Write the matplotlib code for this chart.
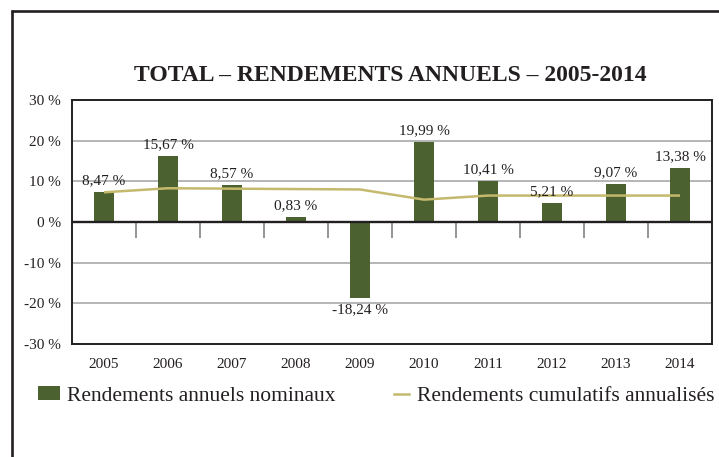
import matplotlib
matplotlib.use("Agg")
import matplotlib.pyplot as plt
from matplotlib.lines import Line2D
from matplotlib.patches import Patch

years = ["2005", "2006", "2007", "2008", "2009", "2010", "2011", "2012", "2013", "2014"]
annual = [7.3, 16.2, 9.05, 1.2, -18.6, 19.6, 10.05, 4.6, 9.3, 13.2]
annual_labels = ["8,47 %", "15,67 %", "8,57 %", "0,83 %", "-18,24 %", "19,99 %",
                 "10,41 %", "5,21 %", "9,07 %", "13,38 %"]
cumulative = [7.3, 8.3, 8.2, 8.1, 8.0, 5.5, 6.5, 6.5, 6.5, 6.5]
yticks = [-30, -20, -10, 0, 10, 20, 30]
ytick_labels = ["-30 %", "-20 %", "-10 %", "0 %", "10 %", "20 %", "30 %"]
title = "TOTAL – RENDEMENTS ANNUELS – 2005-2014"
legend_bar = "Rendements annuels nominaux"
legend_line = "Rendements cumulatifs annualisés"

BAR = "#4b6130"
LINE = "#c4b96c"
TXT = "#231f20"
GRID = "#a7a9ac"
TICK = "#939598"

plt.rcParams["font.family"] = ["Liberation Serif", "DejaVu Serif"]

W, H = 719, 457
fig = plt.figure(figsize=(W / 100, H / 100), dpi=100)
ax = fig.add_axes([72 / W, 1 - 344 / H, 640 / W, 244 / H])

x = list(range(len(years)))
ax.set_ylim(-30, 30)
ax.set_xlim(-0.5, len(years) - 0.5)

for v in [-20, -10, 10, 20]:
    ax.axhline(v, color=GRID, lw=1.2, zorder=1)

ax.vlines([i + 0.5 for i in x[:-1]], -4, 0, color=TICK, lw=1.4, zorder=1)

ax.bar(x, annual, width=0.3, color=BAR, zorder=2)
ax.axhline(0, color=TXT, lw=1.7, zorder=3)
ax.plot(x, cumulative, color=LINE, lw=1.8, zorder=4, solid_capstyle="butt")

for xi, v, lab in zip(x, annual, annual_labels):
    if v >= 0:
        ax.text(xi, v + 1.3, lab, ha="center", va="bottom", fontsize=11, color=TXT, zorder=5)
    else:
        ax.text(xi, v - 1.3, lab, ha="center", va="top", fontsize=11, color=TXT, zorder=5)

ax.set_yticks(yticks)
ax.set_yticklabels(ytick_labels, fontsize=11, color=TXT)
ax.set_xticks(x)
ax.set_xticklabels(years, fontsize=11, color=TXT)
ax.tick_params(axis="both", length=0)
ax.tick_params(axis="y", pad=8)
ax.tick_params(axis="x", pad=10)
for s in ax.spines.values():
    s.set_linewidth(1.4)
    s.set_color(TXT)

fig.text(390 / W, 1 - 76 / H, title, ha="center", va="center",
         fontsize=17, fontweight="bold", color=TXT)

# outer frame
fig.add_artist(Line2D([11 / W, 1.0], [1 - 10.5 / H, 1 - 10.5 / H], color=TXT, lw=1.9,
                      transform=fig.transFigure, solid_capstyle="butt"))
fig.add_artist(Line2D([11.5 / W, 11.5 / W], [0, 1 - 9.5 / H], color=TXT, lw=1.9,
                      transform=fig.transFigure, solid_capstyle="butt"))

leg1 = fig.legend(handles=[Patch(facecolor=BAR, edgecolor="none", label=legend_bar)],
                  loc="center left", bbox_to_anchor=(38 / W, 1 - 396 / H),
                  frameon=False, fontsize=15.5, handlelength=1.0, handleheight=0.65,
                  handletextpad=0.35, borderpad=0, borderaxespad=0)
for t in leg1.get_texts():
    t.set_color(TXT)
leg2 = fig.legend(handles=[Line2D([], [], color=LINE, lw=1.8, label=legend_line)],
                  loc="center left", bbox_to_anchor=(394 / W, 1 - 396 / H),
                  frameon=False, fontsize=15.5, handlelength=0.7,
                  handletextpad=0.35, borderpad=0, borderaxespad=0)
for t in leg2.get_texts():
    t.set_color(TXT)

fig.savefig("out.png", dpi=100, facecolor="white")
